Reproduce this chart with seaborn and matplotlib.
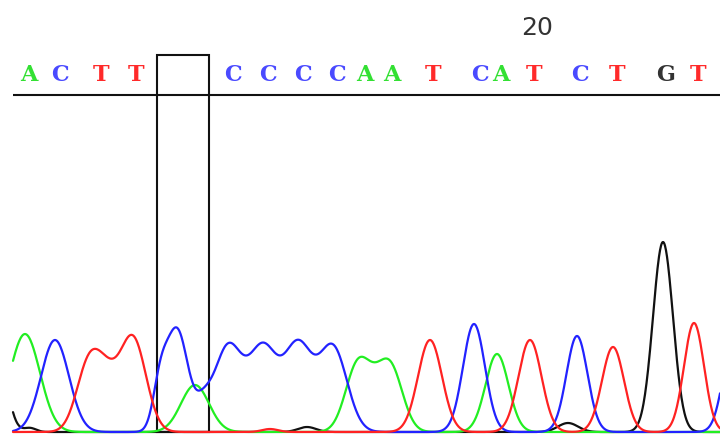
import numpy as np
import pandas as pd
import matplotlib
matplotlib.use("Agg")
import matplotlib.pyplot as plt
from matplotlib.patches import Rectangle
import seaborn as sns

# Base-call letters shown above the trace and their scan positions
call_letters = ["A", "C", "T", "T", "C", "C", "C", "C", "A", "A",
                "T", "C", "A", "T", "C", "T", "G", "T"]
call_pos = [29, 60, 101, 136, 233, 268, 303, 337, 365, 392,
            433, 480, 501, 534, 580, 617, 666, 698]
position_label = "20"
position_label_x = 537

# Peak tables per dye channel: centre (scan), height (signal), width (scan)
a_pos = [25, 195, 357, 374, 391, 497]
a_height = [98, 47, 62, 25, 60, 78]
a_width = [15, 14, 12, 12, 12, 11.5]

c_pos = [55, 160, 177, 203, 228, 263, 298, 333, 474, 577, 733]
c_height = [92, 40, 102, 20, 85, 82, 85, 84, 108, 96, 90]
c_width = [14, 7, 11, 8, 14, 14, 14, 14, 11, 10.5, 10]

t_pos = [88, 106, 133, 270, 430, 530, 613, 694]
t_height = [62, 45, 93, 3, 92, 92, 85, 109]
t_width = [12, 12, 13, 8, 12, 11.5, 11, 10]

g_pos = [-5, 30, 307, 568, 663]
g_height = [100, 4, 5, 9, 190]
g_width = [10, 6, 9, 10, 10]

# Highlighted window (scan range) around the heterozygous position
window_start, window_end = 157, 209

scan = np.arange(13, 720.5, 0.5)


def trace(pos, height, width):
    y = np.zeros_like(scan)
    for p, h, w in zip(pos, height, width):
        y += h * np.exp(-((scan - p) ** 2) / (2.0 * w ** 2))
    return y


channels = {
    "G": trace(g_pos, g_height, g_width),
    "A": trace(a_pos, a_height, a_width),
    "C": trace(c_pos, c_height, c_width),
    "T": trace(t_pos, t_height, t_width),
}
df = pd.concat(
    [pd.DataFrame({"scan": scan, "signal": y, "channel": k}) for k, y in channels.items()],
    ignore_index=True,
)

trace_colors = {"G": "#111111", "A": "#22ee22", "C": "#2222ff", "T": "#ff2222"}
letter_colors = {"G": "#333333", "A": "#33e033", "C": "#4a4aff", "T": "#ff2a2a"}

sns.set_theme(style="white")
plt.rcParams["font.family"] = ["DejaVu Sans"]

fig = plt.figure(figsize=(7.2, 4.35), dpi=100)
ax = fig.add_axes([0, 0, 1, 1])

sns.lineplot(data=df, x="scan", y="signal", hue="channel",
             hue_order=["G", "A", "C", "T"], palette=trace_colors,
             estimator=None, sort=False, linewidth=1.6, legend=False, ax=ax)

# Base calls
for letter, x in zip(call_letters, call_pos):
    ax.text(x, 352, letter, ha="center", va="baseline", fontsize=16,
            fontweight="bold", family="DejaVu Serif", color=letter_colors[letter])

ax.text(position_label_x, 398, position_label, ha="center", va="baseline",
        fontsize=18, color="#333333")

# Rule under the base calls
ax.plot([13, 720], [337, 337], color="#111111", linewidth=1.5, solid_capstyle="butt")

# Window box
ax.add_patch(Rectangle((window_start, 0), window_end - window_start, 377,
                       fill=False, edgecolor="#111111", linewidth=1.5))

ax.set_xlim(0, 720)
ax.set_ylim(-2, 433)
ax.axis("off")

fig.savefig("out.png", dpi=100)
